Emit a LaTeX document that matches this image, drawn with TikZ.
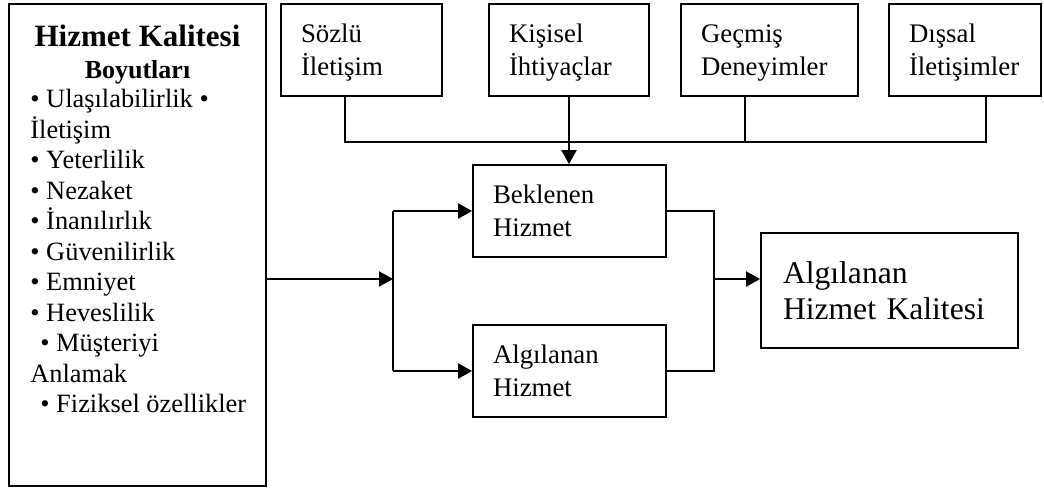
\documentclass[tikz,border=0pt]{standalone}
\usepackage{fontspec}
\setmainfont{Liberation Serif}
\usetikzlibrary{arrows.meta}

\begin{document}
\begin{tikzpicture}[x=0.5pt,y=-0.5pt]
% Box and line styles
\tikzset{
    box/.style={draw=black, line width=0.9pt, align=left, inner xsep=10pt, inner ysep=0pt},
    topbox/.style={box, minimum height=46pt, text depth=16.5pt, font=\fontsize{13.4}{16.5}\selectfont},
    midbox/.style={box, text width=76.5pt, minimum height=46pt, font=\fontsize{13.4}{16.5}\selectfont},
    wire/.style={line width=0.65pt},
    feed/.style={line width=1pt, -{Triangle[length=7pt,width=7.5pt]}},
}
\useasboundingbox (0,0) rectangle (1044,489);
% Dimensions box
\node
[
    draw=black,
    line width=0.9pt,
    minimum width=128.5pt,
    minimum height=241pt,
    inner sep=0pt
] (dims) at (137.5,245) {};
\node
[
    anchor=north,
    inner sep=0pt,
    align=center,
    font=\bfseries\fontsize{15.5}{16}\selectfont
] (dimstitle) at (137.5,25) {Hizmet Kalitesi\\{\fontsize{13}{16}\selectfont Boyutları}};
\node
[
    anchor=north west,
    inner sep=0pt,
    align=left,
    font=\fontsize{13.2}{15.25}\selectfont
] (dimslist) at (30,89) {• Ulaşılabilirlik •\\İletişim\\• Yeterlilik\\• Nezaket\\• İnanılırlık\\• Güvenilirlik\\• Emniyet\\• Heveslilik\\\hspace*{5pt}• Müşteriyi\\Anlamak\\\hspace*{5pt}• Fiziksel özellikler};
% Top row
\node[topbox, text width=60.5pt] (soz) at (361.5,50) {Sözlü\\İletişim};
\node[topbox, text width=60pt] (kis) at (569,50) {Kişisel\\İhtiyaçlar};
\node[topbox, text width=68.5pt] (gec) at (769.5,50) {Geçmiş\\Deneyimler};
\node[topbox, text width=56pt] (dis) at (965,50) {Dışsal\\İletişimler};
% Middle boxes
\node[midbox] (bek) at (569.5,211) {Beklenen\\Hizmet};
\node[midbox] (alg) at (569.5,371) {Algılanan\\Hizmet};
\node
[
    box,
    inner xsep=11pt,
    text width=106.5pt,
    minimum height=57.5pt,
    font=\fontsize{15.8}{18.3}\selectfont
] (ahk) at (889.5,290.5) {Algılanan\\Hizmet Kalitesi};
% Bus
\coordinate (busL) at (345,142);
\coordinate (busG) at (745,142);
\coordinate (busR) at (986,142);
\draw[wire] (soz.south -| busL) -- (busL) -- (busR) -- (dis.south -| busR);
\draw[wire] (gec.south -| busG) -- (busG);
\draw[feed] (kis.south) -- (kis.south |- bek.north);
% Split and join
\coordinate (split) at (393,279);
\coordinate (join) at (714,279);
\draw[feed] (dims.east |- split) -- (split);
\draw[line width=0.8pt] (split |- bek.west) -- (split |- alg.west);
\draw[feed] (split |- bek.west) -- (bek.west);
\draw[feed] (split |- alg.west) -- (alg.west);
\draw[wire] (bek.east) -| (join) |- (alg.east);
\draw[feed] (join) -- (join -| ahk.west);
\end{tikzpicture}
\end{document}
